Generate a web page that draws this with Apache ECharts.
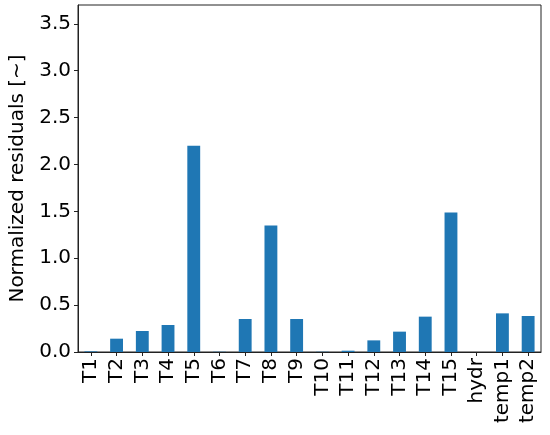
<!DOCTYPE html>
<html>
<head>
<meta charset="utf-8">
<script src="https://cdn.jsdelivr.net/npm/echarts@6/dist/echarts.min.js"></script>
<style>
html,body{margin:0;padding:0;background:#fff;}
#chart{width:550px;height:435px;}
</style>
</head>
<body>
<div id="chart"></div>
<script>
var categories = ['T1','T2','T3','T4','T5','T6','T7','T8','T9','T10','T11','T12','T13','T14','T15','hydr','temp1','temp2'];
var residuals = [0.007,0.142,0.224,0.288,2.20,0.003,0.352,1.348,0.352,0.003,0.014,0.124,0.217,0.377,1.487,0.0,0.412,0.384];
var yTicks = [0,0.5,1.0,1.5,2.0,2.5,3.0,3.5];
var yMax = 3.70;

var chart = echarts.init(document.getElementById('chart'), null, {renderer:'canvas'});
var font = 'DejaVu Sans';
chart.setOption({
  animation:false,
  grid:{left:74,right:9,top:5,bottom:83,show:true,borderColor:'#222',borderWidth:1,backgroundColor:'transparent'},
  xAxis:{
    type:'category',
    data:categories,
    axisLine:{show:true,lineStyle:{color:'#222',width:1}},
    axisTick:{show:true,alignWithLabel:true,length:4,lineStyle:{color:'#222'}},
    axisLabel:{rotate:90,fontSize:20,fontFamily:font,color:'#000',margin:6,interval:0},
    splitLine:{show:false}
  },
  yAxis:{
    type:'value',
    min:0,max:yMax,
    name:'Normalized residuals [~]',
    nameLocation:'middle',
    nameGap:50,
    nameTextStyle:{fontSize:20,fontFamily:font,color:'#000'},
    axisLine:{show:true,lineStyle:{color:'#222',width:1}},
    axisTick:{show:true,length:4,lineStyle:{color:'#222'},customValues:yTicks},
    axisLabel:{fontSize:20,fontFamily:font,color:'#000',margin:7,customValues:yTicks,formatter:function(v){return v.toFixed(1);}},
    splitLine:{show:false}
  },
  series:[{
    type:'bar',
    data:residuals,
    barWidth:'50%',
    itemStyle:{color:'#1f77b4'}
  }]
});
</script>
</body>
</html>
